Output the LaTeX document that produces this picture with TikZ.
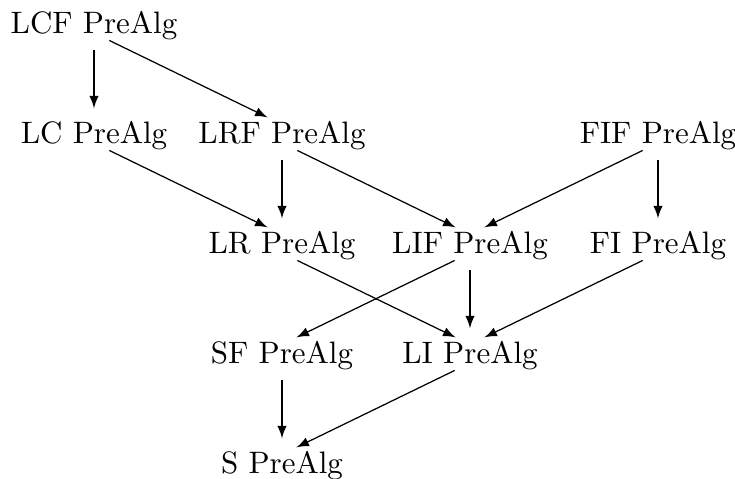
\documentclass[tikz,border=0pt]{standalone}
\usepackage{tikz}
\usepackage{amsmath}
\usepackage{amssymb}

\tikzset{
    alg/.style={anchor=base,inner sep=0pt},
    arr/.style={-latex,shorten <=5.5pt,shorten >=5.2pt}
}

\begin{document}
\begin{tikzpicture}[x=0.3226pt,y=-0.3226pt]
                    \useasboundingbox (0,0) rectangle (735,479);
                    \node[alg](LCF) at (94,33){LCF PreAlg};
                    \node[alg](LC) at (94,143){LC PreAlg};
                    \node[alg](LRF) at (282,143){LRF PreAlg};
                    \node[alg](FIF) at (658,143){FIF PreAlg};
                    \node[alg](LR) at (282,253){LR PreAlg};
                    \node[alg](LIF) at (470,253){LIF PreAlg};
                    \node[alg](FI) at (658,253){FI PreAlg};
                    \node[alg](SF) at (282,363){SF PreAlg};
                    \node[alg](LI) at (470,363){LI PreAlg};
                    \node[alg](S) at (282,473){S PreAlg};
                    \draw[arr](LCF.base)--([yshift=6pt]LC.base);
                    \draw[arr](LCF.base)--([yshift=6pt]LRF.base);
                    \draw[arr](LC.base)--([yshift=6pt]LR.base);
                    \draw[arr](LRF.base)--([yshift=6pt]LR.base);
                    \draw[arr](LRF.base)--([yshift=6pt]LIF.base);
                    \draw[arr](FIF.base)--([yshift=6pt]LIF.base);
                    \draw[arr](FIF.base)--([yshift=6pt]FI.base);
                    \draw[arr](LR.base)--([yshift=6pt]LI.base);
                    \draw[arr](LIF.base)--([yshift=6pt]SF.base);
                    \draw[arr](LIF.base)--([yshift=6pt]LI.base);
                    \draw[arr](FI.base)--([yshift=6pt]LI.base);
                    \draw[arr](SF.base)--([yshift=6pt]S.base);
                    \draw[arr](LI.base)--([yshift=6pt]S.base);
                \end{tikzpicture}
\end{document}
